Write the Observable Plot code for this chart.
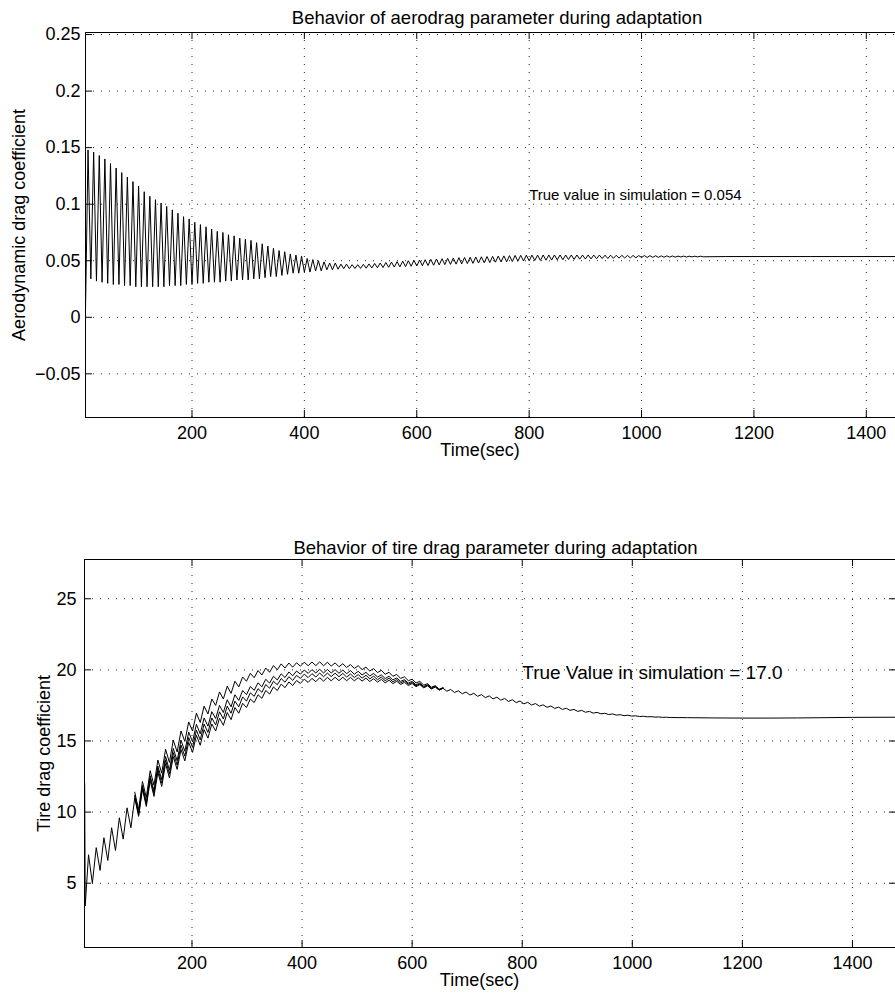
<!DOCTYPE html>
<html>
<head>
<meta charset="utf-8">
<script src="https://cdn.jsdelivr.net/npm/d3@7"></script>
<script src="https://cdn.jsdelivr.net/npm/@observablehq/plot@0.6"></script>
<style>
html, body { margin: 0; padding: 0; background: #fff; overflow: hidden; }
#wrap { position: relative; width: 895px; height: 1002px; overflow: hidden; background: #fff; }
#top, #bottom { position: absolute; left: 0; }
#top { top: 0; width: 922px; height: 470px; }
#bottom { top: 470px; width: 897px; height: 532px; }
#wrap svg { display: block; max-width: none !important; }
</style>
</head>
<body>
<div id="wrap"><div id="top"></div><div id="bottom"></div></div>
<script>
// ---------- texts ----------
const aeroTitle = "Behavior of aerodrag parameter during adaptation";
const tireTitle = "Behavior of tire drag parameter during adaptation";
const aeroYLabel = "Aerodynamic drag coefficient";
const tireYLabel = "Tire drag coefficient";
const timeLabel = "Time(sec)";

// ---------- ticks ----------
const timeTicks = [200, 400, 600, 800, 1000, 1200, 1400];
const timeTickLabels = ["200", "400", "600", "800", "1000", "1200", "1400"];
const aeroTicks = [-0.05, 0, 0.05, 0.1, 0.15, 0.2, 0.25];
const aeroTickLabels = ["\u22120.05", "0", "0.05", "0.1", "0.15", "0.2", "0.25"];
const tireTicks = [5, 10, 15, 20, 25];
const tireTickLabels = ["5", "10", "15", "20", "25"];

// ---------- annotations ----------
const aeroNote = [{t: 800, v: 0.108, label: "True value in simulation = 0.054"}];
const tireNote = [{t: 800, v: 19.8, label: "True Value in simulation = 17.0"}];

// ---------- aerodynamic drag estimate (peaks / troughs) ----------
const aeroTime = [
  10.5,
  15,20,25,30,35,40,45,50,55,60,65,70,75,80,85,90,95,100,105,110,
  115,120,125,130,135,140,145,150,155,160,165,170,175,180,185,190,195,200,205,210,
  215,220,225,230,235,240,245,250,255,260,265,270,275,280,285,290,295,300,305,310,
  315,320,325,330,335,340,345,350,355,360,365,370,375,380,385,390,395,400,405,410,
  415,420,425,430,435,440,445,450,455,460,465,470,475,480,485,490,495,500,505,510,
  515,520,525,530,535,540,545,550,555,560,565,570,575,580,585,590,595,600,605,610,
  615,620,625,630,635,640,645,650,655,660,665,670,675,680,685,690,695,700,705,710,
  715,720,725,730,735,740,745,750,755,760,765,770,775,780,785,790,795,800,805,810,
  815,820,825,830,835,840,845,850,855,860,865,870,875,880,885,890,895,900,905,910,
  915,920,925,930,935,940,945,950,955,960,965,970,975,980,985,990,995,1000,1005,1010,
  1015,1020,1025,1030,1035,1040,1045,1050,1055,1060,1065,1070,1075,1080,1085,1090,1095,1100,1105,1110,
  1150,1200,1300,1500
];
const aeroValue = [
  0.005,
  0.148,0.034,0.146,0.032,0.143,0.031,0.140,0.030,0.136,0.029,0.132,0.029,0.128,0.028,0.124,0.028,0.120,0.027,0.116,0.027,
  0.111,0.027,0.107,0.027,0.104,0.027,0.101,0.027,0.098,0.028,0.095,0.028,0.092,0.028,0.089,0.029,0.087,0.029,0.084,0.030,
  0.082,0.030,0.080,0.031,0.078,0.031,0.076,0.031,0.075,0.032,0.073,0.032,0.072,0.033,0.070,0.033,0.069,0.033,0.068,0.034,
  0.066,0.034,0.065,0.035,0.063,0.036,0.061,0.036,0.059,0.037,0.058,0.038,0.056,0.039,0.055,0.039,0.054,0.040,0.052,0.040,
  0.051,0.041,0.050,0.041,0.049,0.042,0.048,0.042,0.048,0.0425,0.047,0.043,0.047,0.043,0.0465,0.0432,0.0465,0.0432,0.0468,0.0434,
  0.0472,0.0436,0.0476,0.0438,0.048,0.044,0.0484,0.0442,0.0488,0.0444,0.0492,0.0446,0.0496,0.0448,0.05,0.0451,0.0503,0.0454,0.0506,0.0456,
  0.0509,0.0458,0.0512,0.046,0.0515,0.0463,0.0518,0.0466,0.0521,0.0468,0.0524,0.047,0.0527,0.0472,0.0529,0.0475,0.0531,0.0477,0.0533,0.048,
  0.0535,0.0482,0.0537,0.0484,0.0539,0.0487,0.0541,0.0489,0.0543,0.0491,0.0545,0.0493,0.0547,0.0496,0.0548,0.0498,0.0549,0.05,0.055,0.0502,
  0.055,0.0503,0.0551,0.0505,0.0551,0.0506,0.0551,0.0508,0.0551,0.0509,0.0551,0.0511,0.0551,0.0512,0.0551,0.0514,0.0551,0.0515,0.0551,0.0516,
  0.055,0.0518,0.055,0.0519,0.0549,0.052,0.0549,0.0521,0.0548,0.0523,0.0548,0.0524,0.0547,0.0525,0.0547,0.0526,0.0546,0.0528,0.0546,0.0529,
  0.0545,0.053,0.0544,0.053,0.0543,0.0531,0.0543,0.0532,0.0542,0.0532,0.0541,0.0533,0.0541,0.0533,0.054,0.0534,0.054,0.0534,0.054,0.0535,
  0.0537,0.0537,0.0537,0.0537
];

// ---------- tire drag estimates (four overlapping runs) ----------
const tireTime = [
  5, 6,
  12,19,26,33,40,47,54,61,68,75,82,89,96,103,
  110,117,124,131,138,145,152,159,166,173,180,187,194,201,
  208,215,222,229,236,243,250,257,264,271,278,285,292,299,
  306,313,320,327,334,341,348,355,362,369,376,383,390,397,
  404,411,418,425,432,439,446,453,460,467,474,481,488,495,
  502,509,516,523,530,537,544,551,558,565,572,579,586,593,
  600,607,614,621,628,635,642,649,656,663,670,677,684,691,
  698,705,712,719,726,733,740,747,754,761,768,775,782,789,
  796,803,810,817,824,831,838,845,852,859,866,873,880,887,
  894,901,908,915,922,929,936,943,950,957,964,971,978,985,
  992,999,1006,1013,1020,1027,1034,1041,1048,1055,1062,1069,
  1100,1150,1200,1250,1300,1350,1400,1480
];
const tireA = [
  12.0, 3.4,
  7.0,5.0,7.5,5.9,8.2,6.6,8.9,7.3,9.6,8.1,10.3,8.9,11.0,9.7,
  11.6,10.4,12.2,11.1,12.8,11.8,13.4,12.4,13.9,13.0,14.4,13.6,14.9,14.2,
  15.4,14.7,15.8,15.2,16.2,15.7,16.6,16.1,17.0,16.5,17.35,16.95,17.65,17.35,
  17.95,17.7,18.25,18.0,18.55,18.3,18.8,18.55,19.0,18.75,19.15,18.9,19.25,19.05,
  19.35,19.12,19.4,19.17,19.45,19.21,19.47,19.23,19.48,19.24,19.48,19.24,19.47,19.23,
  19.45,19.21,19.42,19.18,19.38,19.14,19.33,19.09,19.27,19.03,19.2,18.97,19.12,18.9,
  19.04,18.82,18.96,18.74,18.88,18.66,18.8,18.58,18.71,18.5,18.62,18.41,18.53,18.32,
  18.44,18.23,18.35,18.14,18.26,18.05,18.17,17.96,18.08,17.87,17.99,17.78,17.9,17.7,
  17.81,17.61,17.72,17.53,17.63,17.45,17.54,17.37,17.46,17.29,17.38,17.22,17.3,17.15,
  17.22,17.08,17.15,17.02,17.08,16.96,17.01,16.91,16.95,16.86,16.9,16.82,16.85,16.78,
  16.81,16.75,16.77,16.72,16.74,16.7,16.71,16.68,16.69,16.66,16.67,16.65,
  16.64,16.62,16.61,16.61,16.62,16.64,16.66,16.67
];
const tireB = [
  null, null,
  null,null,null,null,null,null,null,null,null,null,null,null,11.10,9.82,
  11.74,10.56,12.38,11.30,13.02,12.04,13.65,12.67,14.18,13.30,14.71,13.93,15.24,14.55,
  15.76,15.08,16.19,15.60,16.62,16.13,17.05,16.55,17.45,16.95,17.80,17.40,18.10,17.80,
  18.39,18.14,18.68,18.42,18.97,18.71,19.20,18.95,19.39,19.13,19.52,19.26,19.61,19.40,
  19.70,19.46,19.73,19.50,19.77,19.52,19.77,19.53,19.77,19.52,19.75,19.49,19.71,19.46,
  19.67,19.42,19.62,19.37,19.56,19.31,19.49,19.24,19.41,19.16,19.32,19.08,19.22,18.99,
  19.11,18.88,19.01,18.78,18.91,18.68,18.81,18.58,18.71
];
const tireC = [
  null, null,
  null,null,null,null,null,null,null,null,null,null,null,null,11.20,9.93,
  11.86,10.70,12.56,11.50,13.24,12.28,13.91,12.94,14.48,13.61,15.05,14.28,15.62,14.95,
  16.17,15.50,16.62,16.04,17.06,16.58,17.50,17.00,17.90,17.40,18.25,17.85,18.55,18.25,
  18.83,18.56,19.09,18.81,19.34,19.07,19.55,19.29,19.72,19.46,19.85,19.58,19.92,19.70,
  19.99,19.75,20.02,19.78,20.04,19.78,20.03,19.78,20.02,19.76,19.99,19.73,19.95,19.69,
  19.90,19.64,19.83,19.57,19.75,19.49,19.65,19.39,19.55,19.29,19.44,19.19,19.31,19.07,
  19.19,18.95,19.07,18.83,18.95,18.71,18.84,18.60,18.72
];
const tireD = [
  null, null,
  null,null,null,null,null,null,null,null,null,null,null,null,11.40,10.18,
  12.15,11.03,12.91,11.89,13.66,12.74,14.42,13.49,15.06,14.23,15.70,14.97,16.34,15.70,
  16.95,16.30,17.45,16.90,17.95,17.50,18.45,17.95,18.85,18.35,19.20,18.80,19.50,19.20,
  19.76,19.45,19.95,19.64,20.13,19.83,20.30,20.01,20.42,20.13,20.48,20.19,20.50,20.26,
  20.54,20.29,20.55,20.30,20.56,20.29,20.53,20.27,20.49,20.22,20.43,20.17,20.37,20.10,
  20.29,20.02,20.19,19.92,20.09,19.81,19.97,19.69,19.83,19.55,19.68,19.40,19.51,19.24,
  19.34,19.08,19.19,18.93,19.03,18.78,18.89,18.64,18.75
];

// ---------- build tables ----------
const aeroData = aeroTime.map((t, i) => ({t, v: aeroValue[i]}));
const tireData = [];
[["A", tireA], ["B", tireB], ["C", tireC], ["D", tireD]].forEach(([run, arr]) => {
  arr.forEach((v, i) => { if (v != null) tireData.push({t: tireTime[i], v, run}); });
});

const font = "'Liberation Sans', Arial, Helvetica, sans-serif";
const dotted = {stroke: "#000", strokeWidth: 1, strokeDasharray: "1,7", strokeOpacity: 0.85};
const ink = {stroke: "#000", strokeWidth: 1};
const timeFmt = d => timeTickLabels[timeTicks.indexOf(d)];

// ---------- top panel ----------
{
  const W = 922, H = 470, mt = 32, mb = 53, ml = 85, mr = 0;
  const iw = W - ml - mr, ih = H - mt - mb;
  const chart = Plot.plot({
    width: W, height: H, marginTop: mt, marginBottom: mb, marginLeft: ml, marginRight: mr,
    style: {fontFamily: font, fontSize: "18px", color: "#000", background: "#fff", maxWidth: "none"},
    x: {domain: [10.5, 1500], ticks: timeTicks, tickFormat: timeFmt, tickSize: 0, tickPadding: 9, label: null},
    y: {domain: [-0.0886, 0.2518], ticks: aeroTicks, tickSize: 0, tickPadding: 5, label: null,
        tickFormat: d => aeroTickLabels[aeroTicks.indexOf(d)]},
    marks: [
      Plot.ruleX(timeTicks, dotted),
      Plot.ruleY(aeroTicks, dotted),
      Plot.line(aeroData, {x: "t", y: "v", stroke: "#000", strokeWidth: 1, clip: true}),
      Plot.ruleX(timeTicks, {...ink, insetTop: ih - 7}),
      Plot.ruleX(timeTicks, {...ink, insetBottom: ih - 7}),
      Plot.ruleY(aeroTicks, {...ink, insetRight: iw - 7}),
      Plot.frame({stroke: "#000", strokeWidth: 1}),
      Plot.text([aeroTitle], {frameAnchor: "top", textAnchor: "middle", dy: -22, dx: -7, fontSize: 18.5}),
      Plot.text([timeLabel], {frameAnchor: "bottom", textAnchor: "middle", dy: 38, dx: -24, fontSize: 18}),
      Plot.text([aeroYLabel], {frameAnchor: "left", textAnchor: "middle", dx: -66, rotate: -90, fontSize: 18}),
      Plot.text(aeroNote, {x: "t", y: "v", text: "label", textAnchor: "start", fontSize: 15})
    ]
  });
  document.getElementById("top").appendChild(chart);
}

// ---------- bottom panel ----------
{
  const W = 897, H = 532, mt = 89, mb = 55, ml = 84, mr = 1;
  const iw = W - ml - mr, ih = H - mt - mb;
  const chart = Plot.plot({
    width: W, height: H, marginTop: mt, marginBottom: mb, marginLeft: ml, marginRight: mr,
    style: {fontFamily: font, fontSize: "18px", color: "#000", background: "#fff", maxWidth: "none"},
    x: {domain: [4.7, 1480], ticks: timeTicks, tickFormat: timeFmt, tickSize: 0, tickPadding: 9, label: null},
    y: {domain: [0.48, 27.76], ticks: tireTicks, tickSize: 0, tickPadding: 8, label: null,
        tickFormat: d => tireTickLabels[tireTicks.indexOf(d)]},
    marks: [
      Plot.ruleX(timeTicks, dotted),
      Plot.ruleY(tireTicks, dotted),
      Plot.line(tireData, {x: "t", y: "v", z: "run", stroke: "#000", strokeWidth: 1, clip: true}),
      Plot.ruleX(timeTicks, {...ink, insetTop: ih - 7}),
      Plot.ruleX(timeTicks, {...ink, insetBottom: ih - 7}),
      Plot.ruleY(tireTicks, {...ink, insetRight: iw - 7}),
      Plot.ruleY(tireTicks, {...ink, insetLeft: iw - 7}),
      Plot.frame({stroke: "#000", strokeWidth: 1}),
      Plot.text([tireTitle], {frameAnchor: "top", textAnchor: "middle", dy: -19, dx: 5, fontSize: 18.5}),
      Plot.text([timeLabel], {frameAnchor: "bottom", textAnchor: "middle", dy: 38, dx: -11, fontSize: 18}),
      Plot.text([tireYLabel], {frameAnchor: "left", textAnchor: "middle", dx: -40, rotate: -90, fontSize: 18}),
      Plot.text(tireNote, {x: "t", y: "v", text: "label", textAnchor: "start", fontSize: 19})
    ]
  });
  document.getElementById("bottom").appendChild(chart);
}
</script>
</body>
</html>
